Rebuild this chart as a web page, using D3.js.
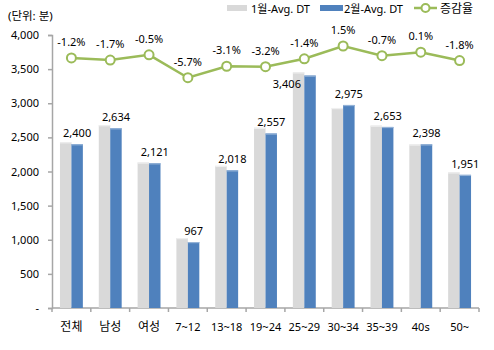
<!DOCTYPE html>
<html><head><meta charset="utf-8">
<script src="https://cdn.jsdelivr.net/npm/d3@7"></script>
<style>
body{margin:0;background:#fff;}
text{font-family:"Noto Sans","Noto Sans CJK KR",sans-serif;fill:#000;}
</style></head>
<body><svg id="c" width="494" height="350"></svg>
<script>
const categories = ["전체","남성","여성","7~12","13~18","19~24","25~29","30~34","35~39","40s","50~"];
const janValues = [2429, 2680, 2132, 1025, 2083, 2641, 3454, 2931, 2672, 2396, 1987];
const febValues = [2400, 2634, 2121, 967, 2018, 2557, 3406, 2975, 2653, 2398, 1951];
const changePct = [-1.2, -1.7, -0.5, -5.7, -3.1, -3.2, -1.4, 1.5, -0.7, 0.1, -1.8];
const yTicks = [0, 500, 1000, 1500, 2000, 2500, 3000, 3500, 4000];
const seriesNames = ["1월-Avg. DT", "2월-Avg. DT", "증감율"];
const unitLabel = "(단위: 분)";

(function(){
const svg = d3.select("#c");
const pL = 52, pR = 479, pT = 35, pB = 308;
const grayC = "#d9d9d9", blueC = "#4f81bd", lineC = "#9bbb59", axisC = "#a6a6a6";

const x = d3.scaleBand().domain(categories).range([pL, pR]).padding(0);
const x1 = d3.scaleBand().domain(["jan","feb"]).range([x.bandwidth()*0.205, x.bandwidth()*0.795]).padding(0);
const y = d3.scaleLinear().domain([0, 4000]).range([pB, pT]);
const y2 = d3.scaleLinear().domain([-58, 4]).range([pB, pT]);

// Y axis
const yAxis = d3.axisLeft(y).tickValues(yTicks).tickSize(4).tickPadding(9)
  .tickFormat(d => d === 0 ? "-" : d3.format(",")(d));
const gy = svg.append("g").attr("transform", `translate(${pL},0)`).call(yAxis);
gy.select(".domain").attr("stroke", axisC).attr("stroke-width", 1.5);
gy.selectAll(".tick line").attr("stroke", axisC).attr("stroke-width", 1.5);
gy.selectAll(".tick text").attr("font-size", 11).attr("font-family", null).style("fill", "#000");

// X axis
const gx = svg.append("g").attr("transform", `translate(0,${pB})`);
gx.append("line").attr("x1", pL).attr("x2", pR).attr("stroke", axisC).attr("stroke-width", 1.5);
gx.selectAll("line.tk").data(categories.concat(["__end"])).enter().append("line")
  .attr("class","tk")
  .attr("x1", (d,i) => pL + i*x.bandwidth()).attr("x2", (d,i) => pL + i*x.bandwidth())
  .attr("y1", 0).attr("y2", 4).attr("stroke", axisC).attr("stroke-width", 1.5);
gx.selectAll("text").data(categories).enter().append("text")
  .attr("x", d => x(d) + x.bandwidth()/2).attr("y", 23)
  .attr("text-anchor", "middle").attr("font-size", d => /[가-힣]/.test(d) ? 12 : 11)
  .text(d => d);

// Bars
const groups = svg.selectAll("g.grp").data(categories).enter().append("g")
  .attr("class","grp").attr("transform", d => `translate(${x(d)},0)`);
groups.append("rect").attr("x", x1("jan")).attr("width", x1.bandwidth())
  .attr("y", (d,i) => y(janValues[i])).attr("height", (d,i) => pB - y(janValues[i]))
  .attr("fill", grayC);
groups.append("rect").attr("x", x1("jan")).attr("width", x1.bandwidth())
  .attr("y", (d,i) => y(janValues[i])).attr("height", 1.2).attr("fill", "#efefef");
groups.append("rect").attr("x", x1("feb")).attr("width", x1.bandwidth())
  .attr("y", (d,i) => y(febValues[i])).attr("height", (d,i) => pB - y(febValues[i]))
  .attr("fill", blueC);
groups.append("rect").attr("x", x1("feb")).attr("width", x1.bandwidth())
  .attr("y", (d,i) => y(febValues[i])).attr("height", 1.2).attr("fill", "#95b3d7");

// Bar labels
groups.append("text").attr("font-size", 11).attr("text-anchor", "middle")
  .each(function(d,i){
    const by = y(febValues[i]);
    const py = y2(changePct[i]);
    let lx = x1("feb") + x1.bandwidth()/2, ly = by - 7;
    if (ly - 10 < py + 6) {
      lx = x1("jan") - 6; ly = by + 12;
    }
    d3.select(this).attr("x", lx).attr("y", ly).text(d3.format(",")(febValues[i]));
  });

// Line
const cx = d => x(d) + x.bandwidth()/2;
const line = d3.line().x((d,i) => cx(categories[i])).y(d => y2(d));
svg.append("path").datum(changePct).attr("d", line).attr("fill","none")
  .attr("stroke", lineC).attr("stroke-width", 2.5);
svg.selectAll("circle.pt").data(changePct).enter().append("circle")
  .attr("class","pt").attr("cx", (d,i) => cx(categories[i])).attr("cy", d => y2(d))
  .attr("r", 4.5).attr("fill", "#fff").attr("stroke", lineC).attr("stroke-width", 2);
svg.selectAll("text.pct").data(changePct).enter().append("text")
  .attr("class","pct").attr("x", (d,i) => cx(categories[i])).attr("y", d => y2(d) - 12)
  .attr("text-anchor","middle").attr("font-size", 11)
  .text(d => d.toFixed(1) + "%");

// Unit label
svg.append("text").attr("x", 8).attr("y", 20).attr("font-size", 11.5).text(unitLabel);

// Legend
const lg = svg.append("g");
lg.append("rect").attr("x", 227).attr("y", 5).attr("width", 20).attr("height", 6).attr("fill", grayC);
lg.append("text").attr("x", 251).attr("y", 13).attr("font-size", 11).text(seriesNames[0]);
lg.append("rect").attr("x", 320).attr("y", 5).attr("width", 23).attr("height", 6).attr("fill", blueC);
lg.append("text").attr("x", 344).attr("y", 13).attr("font-size", 11).text(seriesNames[1]);
lg.append("line").attr("x1", 414).attr("x2", 437).attr("y1", 8).attr("y2", 8).attr("stroke", lineC).attr("stroke-width", 2.5);
lg.append("circle").attr("cx", 425.5).attr("cy", 8).attr("r", 4).attr("fill","#fff").attr("stroke", lineC).attr("stroke-width", 2);
lg.append("text").attr("x", 440).attr("y", 13).attr("font-size", 12).text(seriesNames[2]);
})();
</script></body></html>
